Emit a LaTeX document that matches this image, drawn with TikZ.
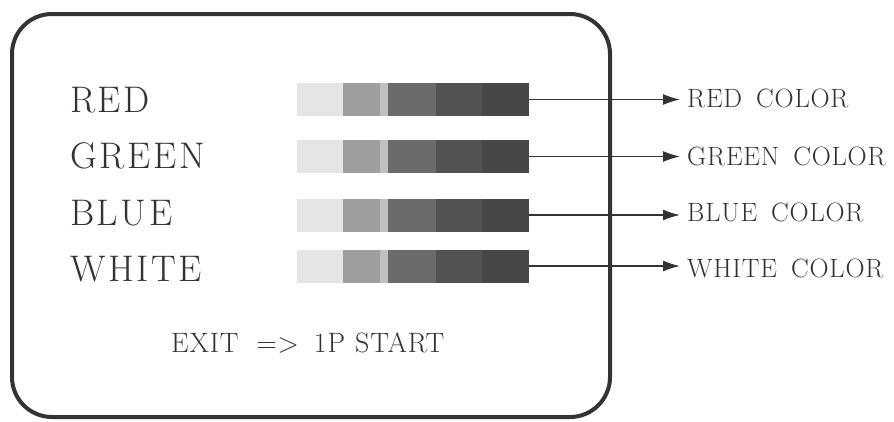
\documentclass[tikz,border=0pt]{standalone}
\usepackage{fontspec}
\newfontfamily\lmbig{lmroman17-regular}[Extension=.otf, LetterSpace=7]
\newfontfamily\lmsmall{lmroman17-regular}[Extension=.otf, LetterSpace=3]
\newfontfamily\lmexit{lmroman17-regular}[Extension=.otf, LetterSpace=3]
\usetikzlibrary{arrows.meta}
\tikzset{
  frame/.style={draw=black!80, line width=4pt, rounded corners=40pt},
  biglabel/.style={anchor=base west, inner sep=0pt, font=\lmbig\fontsize{37}{40}\selectfont, text=black!80},
  smalllabel/.style={anchor=base west, inner sep=0pt, font=\lmsmall\fontsize{26.5}{30}\selectfont, text=black!80},
  exitlabel/.style={anchor=base west, inner sep=0pt, font=\lmexit\fontsize{28}{32}\selectfont, text=black!80},
  barbox/.style={minimum width=232pt, minimum height=33pt, inner sep=0pt, anchor=west},
  conn/.style={draw=black!80, line width=1.5pt, shorten >=7pt, -{Latex[length=17pt,width=11pt]}},
}
\begin{document}
\begin{tikzpicture}[x=1pt,y=-1pt]
\useasboundingbox (0,0) rectangle (894,421);
\draw[frame] (12,14) rectangle (610,417);

\foreach \i/\yc/\lab/\lb/\rb in {1/99.5/RED/112/107, 2/156.5/GREEN/168/165, 3/215/BLUE/225/221, 4/266/WHITE/281/277}{
  \node[biglabel] (l\i) at (70,\lb) {\lab};
  \fill[black!10] (297,\yc-16.5) rectangle (343,\yc+16.5);
  \fill[black!38] (343,\yc-16.5) rectangle (388,\yc+16.5);
  \fill[black!25] (380,\yc-16.5) rectangle (388,\yc+16.5);
  \fill[black!58] (388,\yc-16.5) rectangle (436,\yc+16.5);
  \fill[black!68] (436,\yc-16.5) rectangle (482,\yc+16.5);
  \fill[black!72] (482,\yc-16.5) rectangle (529,\yc+16.5);
  \node[smalllabel] (c\i) at (687,\rb) {\lab\hskip 14pt\relax COLOR};
  \node[barbox] (b\i) at (297,\yc) {};
  \draw[conn] (b\i.east) -- (b\i.east -| c\i.west);
}
\node[exitlabel] (exit) at (171,352) {EXIT\hskip 18pt\relax =>\hskip 15pt\relax 1P\hskip 10pt\relax START};
\end{tikzpicture}
\end{document}
